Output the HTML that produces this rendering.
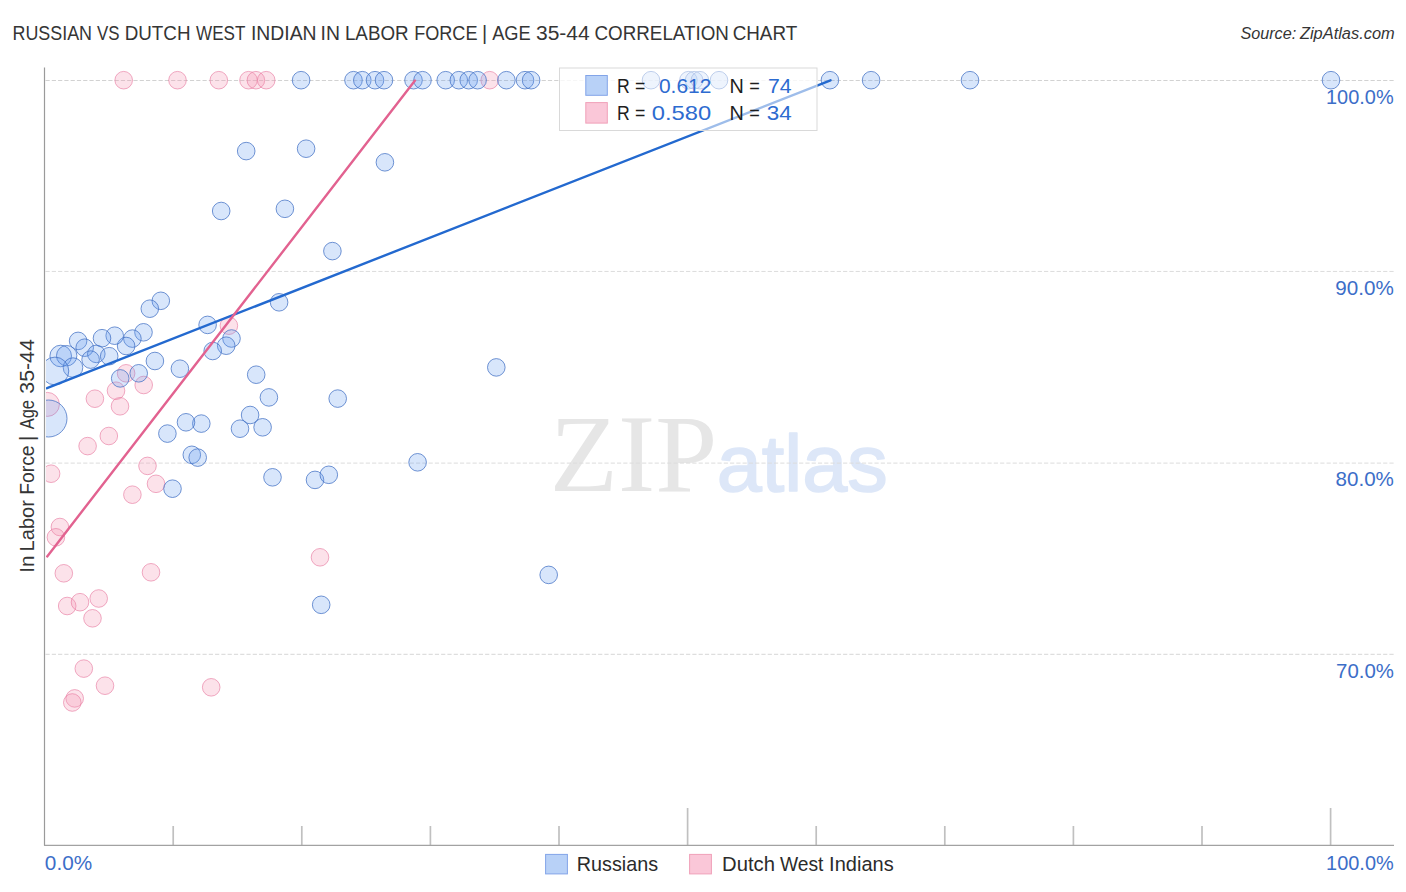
<!DOCTYPE html>
<html><head><meta charset="utf-8"><title>Russian vs Dutch West Indian In Labor Force | Age 35-44 Correlation Chart</title>
<style>
html,body{margin:0;padding:0;background:#fff;}
body{width:1406px;height:892px;overflow:hidden;font-family:"Liberation Sans",sans-serif;}
svg{display:block;position:absolute;left:0;top:0;}
text{font-family:"Liberation Sans",sans-serif;}
.ser{font-family:"Liberation Serif",serif;}
</style></head><body>
<svg width="1406" height="892" viewBox="0 0 1406 892">
<defs><clipPath id="plot"><rect x="46" y="60" width="1348.5" height="785"/></clipPath></defs>
<rect width="1406" height="892" fill="#fff"/>
<!-- title -->
<text transform="translate(12.47,39.8) scale(0.8818,1)" font-size="20.3" fill="#353535">RUSSIAN</text>
<text transform="translate(97.12,39.8) scale(0.8313,1)" font-size="20.3" fill="#353535">VS</text>
<text transform="translate(124.69,39.8) scale(0.9276,1)" font-size="20.3" fill="#353535">DUTCH</text>
<text transform="translate(196.11,39.8) scale(0.8408,1)" font-size="20.3" fill="#353535">WEST</text>
<text transform="translate(250.96,39.8) scale(0.9546,1)" font-size="20.3" fill="#353535">INDIAN</text>
<text transform="translate(320.55,39.8) scale(0.9555,1)" font-size="20.3" fill="#353535">IN</text>
<text transform="translate(344.90,39.8) scale(0.9264,1)" font-size="20.3" fill="#353535">LABOR</text>
<text transform="translate(414.15,39.8) scale(0.8919,1)" font-size="20.3" fill="#353535">FORCE</text>
<text transform="translate(481.90,39.8) scale(0.9852,1)" font-size="20.3" fill="#353535">|</text>
<text transform="translate(492.20,39.8) scale(0.8996,1)" font-size="20.3" fill="#353535">AGE</text>
<text transform="translate(535.96,39.8) scale(1.0368,1)" font-size="20.3" fill="#353535">35-44</text>
<text transform="translate(594.46,39.8) scale(0.9269,1)" font-size="20.3" fill="#353535">CORRELATION</text>
<text transform="translate(732.66,39.8) scale(0.9280,1)" font-size="20.3" fill="#353535">CHART</text>
<text transform="translate(1240.41,39) scale(1.0070,1)" font-size="16.1" fill="#353535" font-style="italic">Source:</text><text transform="translate(1299.93,39) scale(1.0197,1)" font-size="16.1" fill="#353535" font-style="italic">ZipAtlas.com</text>
<!-- watermark -->
<text transform="translate(549.78,490.9) scale(1.0087,1)" font-size="110.7" fill="#e6e6e6" class="ser">ZIP</text><text transform="translate(716.76,490.9) scale(1.0123,1)" font-size="80" fill="#dde7f8" stroke="#dde7f8" stroke-width="1.6" stroke-linejoin="round">atlas</text>
<!-- grid -->
<line x1="45.5" x2="559.5" y1="80.5" y2="80.5" stroke="#d2d2d2" stroke-width="1" stroke-dasharray="4.2 2.08" stroke-dashoffset="0.00"/>
<line x1="559.5" x2="817" y1="80.5" y2="80.5" stroke="#ebebeb" stroke-width="1" stroke-dasharray="4.2 2.08" stroke-dashoffset="5.32"/>
<line x1="817" x2="1394" y1="80.5" y2="80.5" stroke="#d2d2d2" stroke-width="1" stroke-dasharray="4.2 2.08" stroke-dashoffset="5.34"/>
<line x1="45.5" x2="1394" y1="271.45" y2="271.45" stroke="#dcdcdc" stroke-width="1" stroke-dasharray="4.2 2.08" stroke-dashoffset="0.00"/>
<line x1="45.5" x2="1394" y1="463.1" y2="463.1" stroke="#dcdcdc" stroke-width="1" stroke-dasharray="4.2 2.08" stroke-dashoffset="0.00"/>
<line x1="45.5" x2="1394" y1="654.3" y2="654.3" stroke="#d6d6d6" stroke-width="1" stroke-dasharray="4.2 2.08" stroke-dashoffset="0.00"/>
<!-- circles -->
<g clip-path="url(#plot)">
<circle cx="123.7" cy="80.2" r="8.8" fill="rgba(246,150,180,0.28)" stroke="rgba(230,120,158,0.62)" stroke-width="1"/>
<circle cx="177.5" cy="80.2" r="8.8" fill="rgba(246,150,180,0.28)" stroke="rgba(230,120,158,0.62)" stroke-width="1"/>
<circle cx="218.8" cy="80.2" r="8.8" fill="rgba(246,150,180,0.28)" stroke="rgba(230,120,158,0.62)" stroke-width="1"/>
<circle cx="248.5" cy="80.2" r="8.8" fill="rgba(246,150,180,0.28)" stroke="rgba(230,120,158,0.62)" stroke-width="1"/>
<circle cx="255.9" cy="80.2" r="8.8" fill="rgba(246,150,180,0.28)" stroke="rgba(230,120,158,0.62)" stroke-width="1"/>
<circle cx="266.2" cy="80.2" r="8.8" fill="rgba(246,150,180,0.28)" stroke="rgba(230,120,158,0.62)" stroke-width="1"/>
<circle cx="489.7" cy="80.2" r="8.8" fill="rgba(246,150,180,0.28)" stroke="rgba(230,120,158,0.62)" stroke-width="1"/>
<circle cx="126.1" cy="373.3" r="8.8" fill="rgba(246,150,180,0.28)" stroke="rgba(230,120,158,0.62)" stroke-width="1"/>
<circle cx="143.7" cy="385" r="8.8" fill="rgba(246,150,180,0.28)" stroke="rgba(230,120,158,0.62)" stroke-width="1"/>
<circle cx="116" cy="390.7" r="8.8" fill="rgba(246,150,180,0.28)" stroke="rgba(230,120,158,0.62)" stroke-width="1"/>
<circle cx="94.9" cy="398.7" r="8.8" fill="rgba(246,150,180,0.28)" stroke="rgba(230,120,158,0.62)" stroke-width="1"/>
<circle cx="120" cy="406.3" r="8.8" fill="rgba(246,150,180,0.28)" stroke="rgba(230,120,158,0.62)" stroke-width="1"/>
<circle cx="47.4" cy="404.4" r="12" fill="rgba(246,150,180,0.28)" stroke="rgba(230,120,158,0.62)" stroke-width="1"/>
<circle cx="108.8" cy="436" r="8.8" fill="rgba(246,150,180,0.28)" stroke="rgba(230,120,158,0.62)" stroke-width="1"/>
<circle cx="87.6" cy="446.1" r="8.8" fill="rgba(246,150,180,0.28)" stroke="rgba(230,120,158,0.62)" stroke-width="1"/>
<circle cx="51.1" cy="473.7" r="8.8" fill="rgba(246,150,180,0.28)" stroke="rgba(230,120,158,0.62)" stroke-width="1"/>
<circle cx="147.5" cy="465.9" r="8.8" fill="rgba(246,150,180,0.28)" stroke="rgba(230,120,158,0.62)" stroke-width="1"/>
<circle cx="156" cy="483.8" r="8.8" fill="rgba(246,150,180,0.28)" stroke="rgba(230,120,158,0.62)" stroke-width="1"/>
<circle cx="132.4" cy="494.7" r="8.8" fill="rgba(246,150,180,0.28)" stroke="rgba(230,120,158,0.62)" stroke-width="1"/>
<circle cx="59.9" cy="527" r="8.8" fill="rgba(246,150,180,0.28)" stroke="rgba(230,120,158,0.62)" stroke-width="1"/>
<circle cx="55.9" cy="537.3" r="8.8" fill="rgba(246,150,180,0.28)" stroke="rgba(230,120,158,0.62)" stroke-width="1"/>
<circle cx="63.8" cy="573.3" r="8.8" fill="rgba(246,150,180,0.28)" stroke="rgba(230,120,158,0.62)" stroke-width="1"/>
<circle cx="151" cy="572.3" r="8.8" fill="rgba(246,150,180,0.28)" stroke="rgba(230,120,158,0.62)" stroke-width="1"/>
<circle cx="67.2" cy="606" r="8.8" fill="rgba(246,150,180,0.28)" stroke="rgba(230,120,158,0.62)" stroke-width="1"/>
<circle cx="80" cy="602.2" r="8.8" fill="rgba(246,150,180,0.28)" stroke="rgba(230,120,158,0.62)" stroke-width="1"/>
<circle cx="98.7" cy="598.5" r="8.8" fill="rgba(246,150,180,0.28)" stroke="rgba(230,120,158,0.62)" stroke-width="1"/>
<circle cx="92.5" cy="618.3" r="8.8" fill="rgba(246,150,180,0.28)" stroke="rgba(230,120,158,0.62)" stroke-width="1"/>
<circle cx="83.8" cy="668.6" r="8.8" fill="rgba(246,150,180,0.28)" stroke="rgba(230,120,158,0.62)" stroke-width="1"/>
<circle cx="105" cy="685.7" r="8.8" fill="rgba(246,150,180,0.28)" stroke="rgba(230,120,158,0.62)" stroke-width="1"/>
<circle cx="211.2" cy="687.3" r="8.8" fill="rgba(246,150,180,0.28)" stroke="rgba(230,120,158,0.62)" stroke-width="1"/>
<circle cx="74.7" cy="698.4" r="8.8" fill="rgba(246,150,180,0.28)" stroke="rgba(230,120,158,0.62)" stroke-width="1"/>
<circle cx="72.3" cy="702.5" r="8.8" fill="rgba(246,150,180,0.28)" stroke="rgba(230,120,158,0.62)" stroke-width="1"/>
<circle cx="228.9" cy="325.7" r="8.8" fill="rgba(246,150,180,0.28)" stroke="rgba(230,120,158,0.62)" stroke-width="1"/>
<circle cx="320" cy="557.3" r="8.8" fill="rgba(246,150,180,0.28)" stroke="rgba(230,120,158,0.62)" stroke-width="1"/>
<circle cx="301.1" cy="80.2" r="8.8" fill="rgba(105,160,240,0.26)" stroke="rgba(66,112,196,0.75)" stroke-width="1"/>
<circle cx="353.5" cy="80.2" r="8.8" fill="rgba(105,160,240,0.26)" stroke="rgba(66,112,196,0.75)" stroke-width="1"/>
<circle cx="362.3" cy="80.2" r="8.8" fill="rgba(105,160,240,0.26)" stroke="rgba(66,112,196,0.75)" stroke-width="1"/>
<circle cx="375" cy="80.2" r="8.8" fill="rgba(105,160,240,0.26)" stroke="rgba(66,112,196,0.75)" stroke-width="1"/>
<circle cx="384" cy="80.2" r="8.8" fill="rgba(105,160,240,0.26)" stroke="rgba(66,112,196,0.75)" stroke-width="1"/>
<circle cx="413.5" cy="80.2" r="8.8" fill="rgba(105,160,240,0.26)" stroke="rgba(66,112,196,0.75)" stroke-width="1"/>
<circle cx="422.5" cy="80.2" r="8.8" fill="rgba(105,160,240,0.26)" stroke="rgba(66,112,196,0.75)" stroke-width="1"/>
<circle cx="445.7" cy="80.2" r="8.8" fill="rgba(105,160,240,0.26)" stroke="rgba(66,112,196,0.75)" stroke-width="1"/>
<circle cx="458.8" cy="80.2" r="8.8" fill="rgba(105,160,240,0.26)" stroke="rgba(66,112,196,0.75)" stroke-width="1"/>
<circle cx="468.7" cy="80.2" r="8.8" fill="rgba(105,160,240,0.26)" stroke="rgba(66,112,196,0.75)" stroke-width="1"/>
<circle cx="477.6" cy="80.2" r="8.8" fill="rgba(105,160,240,0.26)" stroke="rgba(66,112,196,0.75)" stroke-width="1"/>
<circle cx="506.4" cy="80.2" r="8.8" fill="rgba(105,160,240,0.26)" stroke="rgba(66,112,196,0.75)" stroke-width="1"/>
<circle cx="525" cy="80.2" r="8.8" fill="rgba(105,160,240,0.26)" stroke="rgba(66,112,196,0.75)" stroke-width="1"/>
<circle cx="531.1" cy="80.2" r="8.8" fill="rgba(105,160,240,0.26)" stroke="rgba(66,112,196,0.75)" stroke-width="1"/>
<circle cx="651" cy="80.2" r="8.8" fill="rgba(105,160,240,0.26)" stroke="rgba(66,112,196,0.75)" stroke-width="1"/>
<circle cx="688.4" cy="80.2" r="8.8" fill="rgba(105,160,240,0.26)" stroke="rgba(66,112,196,0.75)" stroke-width="1"/>
<circle cx="694.1" cy="80.2" r="8.8" fill="rgba(105,160,240,0.26)" stroke="rgba(66,112,196,0.75)" stroke-width="1"/>
<circle cx="699.9" cy="80.2" r="8.8" fill="rgba(105,160,240,0.26)" stroke="rgba(66,112,196,0.75)" stroke-width="1"/>
<circle cx="719" cy="80.2" r="8.8" fill="rgba(105,160,240,0.26)" stroke="rgba(66,112,196,0.75)" stroke-width="1"/>
<circle cx="829.9" cy="80.2" r="8.8" fill="rgba(105,160,240,0.26)" stroke="rgba(66,112,196,0.75)" stroke-width="1"/>
<circle cx="871.1" cy="80.2" r="8.8" fill="rgba(105,160,240,0.26)" stroke="rgba(66,112,196,0.75)" stroke-width="1"/>
<circle cx="970" cy="80.2" r="8.8" fill="rgba(105,160,240,0.26)" stroke="rgba(66,112,196,0.75)" stroke-width="1"/>
<circle cx="1331" cy="80.2" r="8.8" fill="rgba(105,160,240,0.26)" stroke="rgba(66,112,196,0.75)" stroke-width="1"/>
<circle cx="246.2" cy="151.1" r="8.8" fill="rgba(105,160,240,0.26)" stroke="rgba(66,112,196,0.75)" stroke-width="1"/>
<circle cx="306.1" cy="148.7" r="8.8" fill="rgba(105,160,240,0.26)" stroke="rgba(66,112,196,0.75)" stroke-width="1"/>
<circle cx="384.9" cy="162.3" r="8.8" fill="rgba(105,160,240,0.26)" stroke="rgba(66,112,196,0.75)" stroke-width="1"/>
<circle cx="221.2" cy="211" r="8.8" fill="rgba(105,160,240,0.26)" stroke="rgba(66,112,196,0.75)" stroke-width="1"/>
<circle cx="284.9" cy="208.8" r="8.8" fill="rgba(105,160,240,0.26)" stroke="rgba(66,112,196,0.75)" stroke-width="1"/>
<circle cx="332.4" cy="251.1" r="8.8" fill="rgba(105,160,240,0.26)" stroke="rgba(66,112,196,0.75)" stroke-width="1"/>
<circle cx="279.1" cy="302.3" r="8.8" fill="rgba(105,160,240,0.26)" stroke="rgba(66,112,196,0.75)" stroke-width="1"/>
<circle cx="207.6" cy="324.9" r="8.8" fill="rgba(105,160,240,0.26)" stroke="rgba(66,112,196,0.75)" stroke-width="1"/>
<circle cx="231.5" cy="338.5" r="8.8" fill="rgba(105,160,240,0.26)" stroke="rgba(66,112,196,0.75)" stroke-width="1"/>
<circle cx="226.2" cy="345.7" r="8.8" fill="rgba(105,160,240,0.26)" stroke="rgba(66,112,196,0.75)" stroke-width="1"/>
<circle cx="212.7" cy="351" r="8.8" fill="rgba(105,160,240,0.26)" stroke="rgba(66,112,196,0.75)" stroke-width="1"/>
<circle cx="256.2" cy="374.7" r="8.8" fill="rgba(105,160,240,0.26)" stroke="rgba(66,112,196,0.75)" stroke-width="1"/>
<circle cx="268.9" cy="397.4" r="8.8" fill="rgba(105,160,240,0.26)" stroke="rgba(66,112,196,0.75)" stroke-width="1"/>
<circle cx="337.7" cy="398.6" r="8.8" fill="rgba(105,160,240,0.26)" stroke="rgba(66,112,196,0.75)" stroke-width="1"/>
<circle cx="250.1" cy="415" r="8.8" fill="rgba(105,160,240,0.26)" stroke="rgba(66,112,196,0.75)" stroke-width="1"/>
<circle cx="240" cy="428.7" r="8.8" fill="rgba(105,160,240,0.26)" stroke="rgba(66,112,196,0.75)" stroke-width="1"/>
<circle cx="262.6" cy="427.3" r="8.8" fill="rgba(105,160,240,0.26)" stroke="rgba(66,112,196,0.75)" stroke-width="1"/>
<circle cx="191.8" cy="454.8" r="8.8" fill="rgba(105,160,240,0.26)" stroke="rgba(66,112,196,0.75)" stroke-width="1"/>
<circle cx="197.7" cy="457.6" r="8.8" fill="rgba(105,160,240,0.26)" stroke="rgba(66,112,196,0.75)" stroke-width="1"/>
<circle cx="272.5" cy="477.3" r="8.8" fill="rgba(105,160,240,0.26)" stroke="rgba(66,112,196,0.75)" stroke-width="1"/>
<circle cx="315" cy="479.9" r="8.8" fill="rgba(105,160,240,0.26)" stroke="rgba(66,112,196,0.75)" stroke-width="1"/>
<circle cx="328.8" cy="474.8" r="8.8" fill="rgba(105,160,240,0.26)" stroke="rgba(66,112,196,0.75)" stroke-width="1"/>
<circle cx="417.6" cy="462.3" r="8.8" fill="rgba(105,160,240,0.26)" stroke="rgba(66,112,196,0.75)" stroke-width="1"/>
<circle cx="201.3" cy="423.6" r="8.8" fill="rgba(105,160,240,0.26)" stroke="rgba(66,112,196,0.75)" stroke-width="1"/>
<circle cx="186" cy="422.3" r="8.8" fill="rgba(105,160,240,0.26)" stroke="rgba(66,112,196,0.75)" stroke-width="1"/>
<circle cx="167.4" cy="433.6" r="8.8" fill="rgba(105,160,240,0.26)" stroke="rgba(66,112,196,0.75)" stroke-width="1"/>
<circle cx="172.5" cy="488.7" r="8.8" fill="rgba(105,160,240,0.26)" stroke="rgba(66,112,196,0.75)" stroke-width="1"/>
<circle cx="321.2" cy="604.8" r="8.8" fill="rgba(105,160,240,0.26)" stroke="rgba(66,112,196,0.75)" stroke-width="1"/>
<circle cx="548.7" cy="574.9" r="8.8" fill="rgba(105,160,240,0.26)" stroke="rgba(66,112,196,0.75)" stroke-width="1"/>
<circle cx="496.3" cy="367.4" r="8.8" fill="rgba(105,160,240,0.26)" stroke="rgba(66,112,196,0.75)" stroke-width="1"/>
<circle cx="160.8" cy="300.8" r="8.8" fill="rgba(105,160,240,0.26)" stroke="rgba(66,112,196,0.75)" stroke-width="1"/>
<circle cx="149.8" cy="308.7" r="8.8" fill="rgba(105,160,240,0.26)" stroke="rgba(66,112,196,0.75)" stroke-width="1"/>
<circle cx="143.5" cy="332.3" r="8.8" fill="rgba(105,160,240,0.26)" stroke="rgba(66,112,196,0.75)" stroke-width="1"/>
<circle cx="132.4" cy="338.6" r="8.8" fill="rgba(105,160,240,0.26)" stroke="rgba(66,112,196,0.75)" stroke-width="1"/>
<circle cx="126.1" cy="346" r="8.8" fill="rgba(105,160,240,0.26)" stroke="rgba(66,112,196,0.75)" stroke-width="1"/>
<circle cx="114.7" cy="335.7" r="8.8" fill="rgba(105,160,240,0.26)" stroke="rgba(66,112,196,0.75)" stroke-width="1"/>
<circle cx="102" cy="338.2" r="8.8" fill="rgba(105,160,240,0.26)" stroke="rgba(66,112,196,0.75)" stroke-width="1"/>
<circle cx="78.1" cy="340.9" r="8.8" fill="rgba(105,160,240,0.26)" stroke="rgba(66,112,196,0.75)" stroke-width="1"/>
<circle cx="84.7" cy="347.7" r="8.8" fill="rgba(105,160,240,0.26)" stroke="rgba(66,112,196,0.75)" stroke-width="1"/>
<circle cx="96.3" cy="353.9" r="8.8" fill="rgba(105,160,240,0.26)" stroke="rgba(66,112,196,0.75)" stroke-width="1"/>
<circle cx="109.2" cy="356.2" r="8.8" fill="rgba(105,160,240,0.26)" stroke="rgba(66,112,196,0.75)" stroke-width="1"/>
<circle cx="90.6" cy="359.6" r="8.8" fill="rgba(105,160,240,0.26)" stroke="rgba(66,112,196,0.75)" stroke-width="1"/>
<circle cx="60.7" cy="356" r="10.8" fill="rgba(105,160,240,0.26)" stroke="rgba(66,112,196,0.75)" stroke-width="1"/>
<circle cx="66.7" cy="355.7" r="10.2" fill="rgba(105,160,240,0.26)" stroke="rgba(66,112,196,0.75)" stroke-width="1"/>
<circle cx="73" cy="367.6" r="9.8" fill="rgba(105,160,240,0.26)" stroke="rgba(66,112,196,0.75)" stroke-width="1"/>
<circle cx="54.9" cy="371" r="13.9" fill="rgba(105,160,240,0.26)" stroke="rgba(66,112,196,0.75)" stroke-width="1"/>
<circle cx="154.9" cy="361" r="8.8" fill="rgba(105,160,240,0.26)" stroke="rgba(66,112,196,0.75)" stroke-width="1"/>
<circle cx="179.9" cy="368.7" r="8.8" fill="rgba(105,160,240,0.26)" stroke="rgba(66,112,196,0.75)" stroke-width="1"/>
<circle cx="138.7" cy="373.3" r="8.8" fill="rgba(105,160,240,0.26)" stroke="rgba(66,112,196,0.75)" stroke-width="1"/>
<circle cx="120.2" cy="378.4" r="8.8" fill="rgba(105,160,240,0.26)" stroke="rgba(66,112,196,0.75)" stroke-width="1"/>
<circle cx="48.5" cy="418.5" r="18.5" fill="rgba(105,160,240,0.26)" stroke="rgba(66,112,196,0.75)" stroke-width="1"/>
<line x1="47" y1="388.2" x2="830.5" y2="80.3" stroke="#2369cf" stroke-width="2.4" stroke-linecap="round"/>
<line x1="47.2" y1="556.4" x2="415" y2="80.6" stroke="#e26290" stroke-width="2.4" stroke-linecap="round"/>
</g>
<!-- axes -->
<line x1="173.2" x2="173.2" y1="826" y2="845" stroke="#c0c0c0" stroke-width="1.7"/>
<line x1="301.8" x2="301.8" y1="826" y2="845" stroke="#c0c0c0" stroke-width="1.7"/>
<line x1="430.4" x2="430.4" y1="826" y2="845" stroke="#c0c0c0" stroke-width="1.7"/>
<line x1="559.0" x2="559.0" y1="826" y2="845" stroke="#c0c0c0" stroke-width="1.7"/>
<line x1="687.6" x2="687.6" y1="808" y2="845" stroke="#c0c0c0" stroke-width="1.7"/>
<line x1="816.2" x2="816.2" y1="826" y2="845" stroke="#c0c0c0" stroke-width="1.7"/>
<line x1="944.8" x2="944.8" y1="826" y2="845" stroke="#c0c0c0" stroke-width="1.7"/>
<line x1="1073.4" x2="1073.4" y1="826" y2="845" stroke="#c0c0c0" stroke-width="1.7"/>
<line x1="1202.0" x2="1202.0" y1="826" y2="845" stroke="#c0c0c0" stroke-width="1.7"/>
<line x1="1330.6" x2="1330.6" y1="808" y2="845" stroke="#c0c0c0" stroke-width="1.7"/>
<line x1="44.5" x2="44.5" y1="67.5" y2="845.5" stroke="#9a9a9a" stroke-width="1.2"/>
<line x1="44" x2="1394" y1="845.4" y2="845.4" stroke="#a2a2a2" stroke-width="1.3"/>
<!-- axis labels -->
<text transform="translate(1326.00,103.8) scale(0.9985,1)" font-size="20" fill="#3c6ec8">100.0%</text>
<text transform="translate(1335.27,295) scale(1.0327,1)" font-size="20" fill="#3c6ec8">90.0%</text>
<text transform="translate(1335.57,486.1) scale(1.0290,1)" font-size="20" fill="#3c6ec8">80.0%</text>
<text transform="translate(1336.08,677.9) scale(1.0200,1)" font-size="20" fill="#3c6ec8">70.0%</text>
<text transform="translate(44.87,870) scale(1.0385,1)" font-size="20" fill="#3c6ec8">0.0%</text>
<text transform="translate(1326.10,870) scale(0.9970,1)" font-size="20" fill="#3c6ec8">100.0%</text>
<text transform="translate(34.1,572.87) rotate(-90) scale(1.0526,1)" font-size="19.7" fill="#353535">In</text>
<text transform="translate(34.1,551.41) rotate(-90) scale(1.0194,1)" font-size="19.7" fill="#353535">Labor</text>
<text transform="translate(34.1,494.85) rotate(-90) scale(0.9818,1)" font-size="19.7" fill="#353535">Force</text>
<text transform="translate(34.1,441.00) rotate(-90) scale(1.0152,1)" font-size="19.7" fill="#353535">|</text>
<text transform="translate(34.1,429.30) rotate(-90) scale(0.8338,1)" font-size="19.7" fill="#353535">Age</text>
<text transform="translate(34.1,393.65) rotate(-90) scale(1.0806,1)" font-size="19.7" fill="#353535">35-44</text>
<!-- legend box -->
<rect x="559.5" y="68" width="257.5" height="62.5" fill="rgba(255,255,255,0.56)" stroke="#d9d9d9" stroke-width="1"/>
<rect x="585.8" y="75.5" width="21.5" height="19.8" fill="#b8d1f7" stroke="#82a4e8" stroke-width="1"/>
<rect x="585.8" y="102.6" width="21.5" height="20.5" fill="#fac7d8" stroke="#f0a0b9" stroke-width="1"/>
<text transform="translate(616.89,92.8) scale(0.8736,1)" font-size="20.2" fill="#1e1e1e">R</text>
<text transform="translate(635.11,92.8) scale(0.8778,1)" font-size="20.2" fill="#1e1e1e">=</text>
<text transform="translate(658.96,92.8) scale(1.0373,1)" font-size="20.2" fill="#2d6bd0">0.612</text>
<text transform="translate(729.61,92.8) scale(0.9813,1)" font-size="20.2" fill="#1e1e1e">N</text>
<text transform="translate(749.19,92.8) scale(0.8982,1)" font-size="20.2" fill="#1e1e1e">=</text>
<text transform="translate(767.94,92.8) scale(1.0526,1)" font-size="20.2" fill="#2d6bd0">74</text>
<text transform="translate(616.89,120.1) scale(0.8736,1)" font-size="20.2" fill="#1e1e1e">R</text>
<text transform="translate(635.11,120.1) scale(0.8778,1)" font-size="20.2" fill="#1e1e1e">=</text>
<text transform="translate(651.75,120.1) scale(1.1759,1)" font-size="20.2" fill="#2d6bd0">0.580</text>
<text transform="translate(729.61,120.1) scale(0.9813,1)" font-size="20.2" fill="#1e1e1e">N</text>
<text transform="translate(749.19,120.1) scale(0.8982,1)" font-size="20.2" fill="#1e1e1e">=</text>
<text transform="translate(766.70,120.1) scale(1.1091,1)" font-size="20.2" fill="#2d6bd0">34</text>
<!-- bottom legend -->
<rect x="545.6" y="854.4" width="21.8" height="19.5" fill="#b8d1f7" stroke="#82a4e8" stroke-width="1"/>

<rect x="689.6" y="854.4" width="21.8" height="19.5" fill="#fac7d8" stroke="#f0a0b9" stroke-width="1"/>
<text transform="translate(576.82,870.6) scale(0.9937,1)" font-size="19.9" fill="#2b2b2b">Russians</text>
<text transform="translate(722.08,870.6) scale(1.0173,1)" font-size="19.9" fill="#2b2b2b">Dutch</text>
<text transform="translate(779.90,870.6) scale(0.9670,1)" font-size="19.9" fill="#2b2b2b">West</text>
<text transform="translate(829.10,870.6) scale(1.0066,1)" font-size="19.9" fill="#2b2b2b">Indians</text>
</svg>
</body></html>
